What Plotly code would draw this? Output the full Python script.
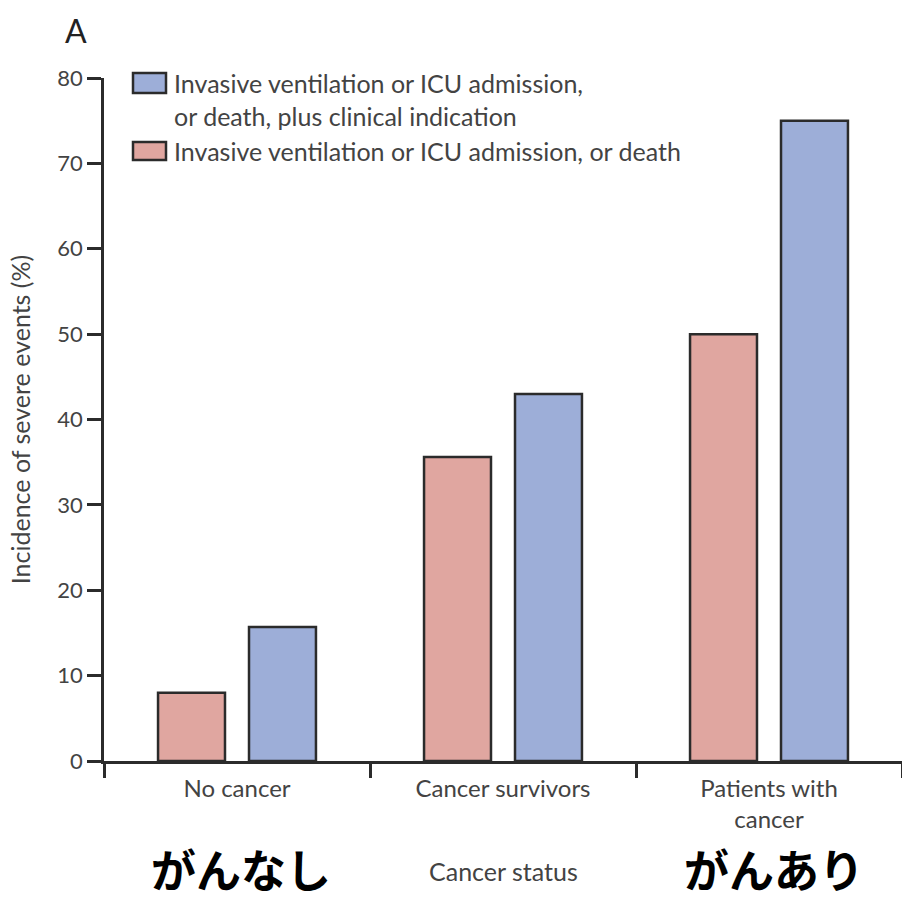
import plotly.graph_objects as go

categories = ["No cancer", "Cancer survivors", "Patients with<br>cancer"]
severe_only = [8.0, 35.6, 50.0]
severe_plus_indication = [15.7, 43.0, 75.0]
y_ticks = [0, 10, 20, 30, 40, 50, 60, 70, 80]

name_red = "Invasive ventilation or ICU admission, or death"
name_blue = "Invasive ventilation or ICU admission,<br>or death, plus clinical indication"

FONT = "Lato"
TEXT = "#434343"
EDGE = "#2b2b2b"
RED = "#e0a6a0"
BLUE = "#9daed8"

# plot area in pixels (left, top, right, bottom)
L, T, R, B = 104, 78, 902, 761


def px(x, y):
    """Convert page pixels into paper coordinates."""
    return (x - L) / (R - L), (B - y) / (B - T)


fig = go.Figure()
fig.add_trace(go.Bar(
    x=categories, y=severe_only, name=name_red,
    marker=dict(color=RED, line=dict(color=EDGE, width=2.5)),
))
fig.add_trace(go.Bar(
    x=categories, y=severe_plus_indication, name=name_blue,
    marker=dict(color=BLUE, line=dict(color=EDGE, width=2.5)),
))

fig.update_layout(
    width=902, height=902,
    margin=dict(l=L, r=902 - R, t=T, b=902 - B),
    paper_bgcolor="white", plot_bgcolor="white",
    font=dict(family=FONT, color=TEXT, size=24),
    barmode="group", bargap=0.316, bargroupgap=0.264,
    showlegend=False,
)

fig.update_xaxes(
    type="category", range=[-0.5, 2.5],
    showline=True, linecolor=EDGE, linewidth=2.5,
    ticks="outside", tickson="boundaries", ticklen=14, tickwidth=2.5, tickcolor=EDGE,
    ticklabelstandoff=4,
    tickfont=dict(size=24, color=TEXT), showgrid=False, zeroline=False,
)
fig.update_yaxes(
    range=[0, 80], tickvals=y_ticks,
    showline=True, linecolor=EDGE, linewidth=2.5,
    ticks="outside", ticklen=14, tickwidth=2.5, tickcolor=EDGE,
    tickfont=dict(size=22, color=TEXT), showgrid=False, zeroline=False,
    title=dict(text="Incidence of severe events (%)", font=dict(size=25, color=TEXT), standoff=20),
)

# legend: swatches plus labels, blue entry first
legend_rows = [
    (BLUE, name_blue, 73, 93, 99.5),
    (RED, name_red, 142, 160, 151),
]
for color, label, y0, y1, ytext in legend_rows:
    x0p, y0p = px(133, y0)
    x1p, y1p = px(166, y1)
    fig.add_shape(type="rect", xref="paper", yref="paper",
                  x0=x0p, x1=x1p, y0=y1p, y1=y0p,
                  fillcolor=color, line=dict(color=EDGE, width=2.5))
    xt, yt = px(172, ytext)
    fig.add_annotation(text=label, xref="paper", yref="paper", x=xt, y=yt,
                       xanchor="left", yanchor="middle", align="left", showarrow=False,
                       font=dict(size=25, color=TEXT))

annotations = [
    dict(text="A", x=76, y=31, font=dict(size=32, color="#222")),
    dict(text="Cancer status", x=503, y=871, font=dict(size=25, color=TEXT)),
    dict(text="<b>がんなし</b>", x=241, y=868,
         font=dict(size=45, color="#000", family="Noto Sans CJK JP")),
    dict(text="<b>がんあり</b>", x=774, y=868,
         font=dict(size=45, color="#000", family="Noto Sans CJK JP")),
]
for a in annotations:
    xp, yp = px(a["x"], a["y"])
    fig.add_annotation(
        text=a["text"], xref="paper", yref="paper", x=xp, y=yp,
        xanchor="center", yanchor="middle", showarrow=False, font=a["font"],
    )

fig.write_html("out.html")
